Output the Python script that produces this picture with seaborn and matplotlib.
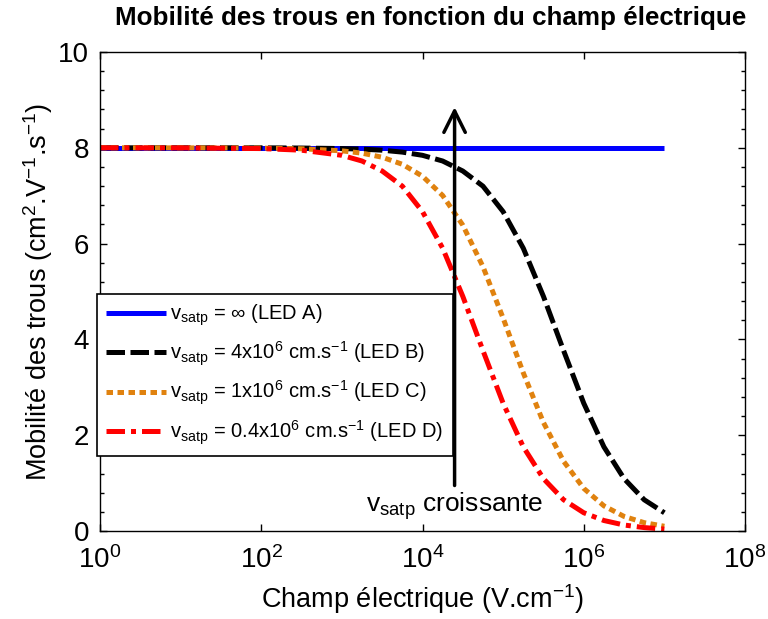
import numpy as np
import matplotlib
matplotlib.use("Agg")
import matplotlib.pyplot as plt
from matplotlib.ticker import FixedLocator, MultipleLocator, NullLocator, LogFormatterMathtext
import seaborn as sns

# Electric field samples (V/cm), quarter-decade spacing above 10^2.5
champ = [1, 10, 100, 316, 1000, 1778, 3162, 5623, 1e4, 17783, 31623, 56234,
         1e5, 177828, 316228, 562341, 1e6, 1778279, 3162278, 5623413, 1e7]

# Hole mobility (cm^2/V/s) for each saturation velocity
mob_led_a = [8.00] * 21
mob_led_b = [8.00, 8.00, 8.00, 7.995, 7.984, 7.972, 7.950, 7.910, 7.843, 7.724, 7.515,
             7.199, 6.667, 5.904, 4.898, 3.766, 2.667, 1.757, 1.093, 0.652, 0.381]
mob_led_c = [8.00, 7.999, 7.994, 7.980, 7.937, 7.888, 7.803, 7.656, 7.407, 7.004, 6.385,
             5.518, 4.444, 3.302, 2.266, 1.455, 0.889, 0.525, 0.304, 0.174, 0.099]
mob_led_d = [8.00, 7.998, 7.984, 7.950, 7.843, 7.724, 7.515, 7.199, 6.667, 5.904, 4.898,
             3.766, 2.667, 1.757, 1.093, 0.652, 0.381, 0.219, 0.125, 0.071, 0.040]

labels = [r"v$_{\mathrm{satp}}$ = ∞ (LED A)",
          r"v$_{\mathrm{satp}}$ = 4x10$^{6}$ cm.s$^{-1}$ (LED B)",
          r"v$_{\mathrm{satp}}$ = 1x10$^{6}$ cm.s$^{-1}$ (LED C)",
          r"v$_{\mathrm{satp}}$ = 0.4x10$^{6}$ cm.s$^{-1}$ (LED D)"]
colors = ["#0000FF", "#000000", "#E0820F", "#FF0000"]
dashes = [None, (3.7, 1.1), (1.3, 0.9), (3.7, 1.2, 1.0, 1.2)]

x_ticks = [1, 1e2, 1e4, 1e6, 1e8]

sns.set_theme(style="ticks")
plt.rcParams["font.family"] = ["Liberation Sans", "DejaVu Sans"]
plt.rcParams["mathtext.fontset"] = "custom"
plt.rcParams["mathtext.rm"] = "Liberation Sans"
plt.rcParams["mathtext.it"] = "Liberation Sans:italic"
plt.rcParams["mathtext.bf"] = "Liberation Sans:bold"
plt.rcParams["mathtext.default"] = "rm"
for key in ["text.color", "axes.labelcolor", "xtick.color", "ytick.color",
            "axes.edgecolor", "xtick.labelcolor", "ytick.labelcolor"]:
    plt.rcParams[key] = "black"

fig = plt.figure(figsize=(7.68, 6.19), dpi=100)
ax = fig.add_axes([100 / 768, 88 / 619, 645 / 768, 479 / 619])

series = [mob_led_a, mob_led_b, mob_led_c, mob_led_d]
for vals, lab, col, dsh in zip(series, labels, colors, dashes):
    sns.lineplot(x=champ, y=vals, ax=ax, color=col, lw=3.6, label=lab, estimator=None)
    line = ax.lines[-1]
    line.set_solid_capstyle("butt")
    line.set_dash_capstyle("butt")
    if dsh is not None:
        line.set_dashes(dsh)

ax.set_xscale("log")
ax.set_xlim(1, 1e8)
ax.set_ylim(0, 10)
ax.xaxis.set_major_locator(FixedLocator(x_ticks))
ax.xaxis.set_major_formatter(LogFormatterMathtext())
ax.xaxis.set_minor_locator(NullLocator())
ax.yaxis.set_major_locator(MultipleLocator(2))
ax.yaxis.set_minor_locator(MultipleLocator(0.4))
ax.tick_params(which="both", direction="in", top=True, right=True, colors="black",
               labelcolor="black", labelsize=20)
ax.tick_params(which="major", length=5, width=1)
ax.tick_params(which="minor", length=3, width=1)
ax.tick_params(axis="x", pad=11)
ax.tick_params(axis="y", pad=8)
for s in ax.spines.values():
    s.set_color("black")
    s.set_linewidth(1.0)

ax.set_xlabel(r"Champ électrique (V.cm$^{-1}$)", fontsize=19.5, labelpad=6, color="black")
ax.set_ylabel(r"Mobilité des trous (cm$^{2}$.V$^{-1}$.s$^{-1}$)", fontsize=19.5,
              labelpad=2, color="black")
fig.text(431 / 768, 1 - 18 / 619, "Mobilité des trous en fonction du champ électrique",
         ha="center", va="center", fontsize=18.7, fontweight="bold", color="black")

# Increasing saturation velocity arrow and caption
arrow_x = 2.5e4
ax.annotate("", xy=(arrow_x, 8.85), xytext=(arrow_x, 0.95),
            arrowprops=dict(arrowstyle="->,head_length=0.7,head_width=0.35",
                            lw=2.5, color="black", shrinkA=0, shrinkB=0,
                            mutation_scale=22))
ax.text(arrow_x, 0.40, r"v$_{\mathrm{satp}}$ croissante", ha="center", va="baseline",
        fontsize=19, color="black")

leg = ax.legend(loc="upper left", bbox_to_anchor=(-0.005, 0.495), fontsize=14.5,
                frameon=True, fancybox=False, framealpha=1, edgecolor="black",
                handlelength=3.0, handletextpad=0.2, labelspacing=0.55,
                borderpad=0.45, borderaxespad=0)
leg.get_frame().set_linewidth(1.2)
for t in leg.get_texts():
    t.set_color("black")

fig.savefig("out.png", dpi=100, facecolor="white")
